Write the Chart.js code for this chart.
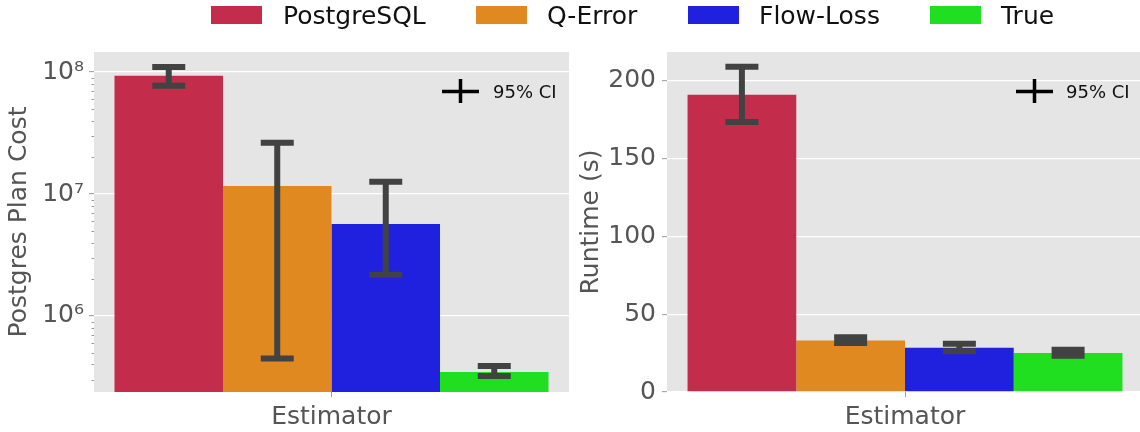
<!DOCTYPE html>
<html>
<head>
<meta charset="utf-8">
<script src="https://cdn.jsdelivr.net/npm/chart.js@4/dist/chart.umd.min.js"></script>
<style>
  html, body { margin:0; padding:0; background:#fff; width:1140px; height:432px; overflow:hidden; }
  body { position:relative; font-family:'DejaVu Sans', sans-serif; }
  .box { position:absolute; top:0; height:432px; }
  .leg { position:absolute; font-size:25px; line-height:25px; color:#111; white-space:nowrap; }
  .sw { position:absolute; top:6px; width:51px; height:18px; }
  .ci { position:absolute; font-size:18px; line-height:18px; color:#111; white-space:nowrap; }
  svg.cross { position:absolute; overflow:visible; }
</style>
</head>
<body>
<div class="box" style="left:0;width:569px;"><canvas id="c1"></canvas></div>
<div class="box" style="left:575px;width:568px;"><canvas id="c2"></canvas></div>
<div id="legend"></div>
<div id="ciLegends"></div>
<script>
// ---- data ----
const categories = [''];
const estimators = ['PostgreSQL', 'Q-Error', 'Flow-Loss', 'True'];
const colors = ['#c32d4b', '#df8920', '#2020df', '#20df20'];
const planCost = [9.33e7, 1.163e7, 5.68e6, 3.47e5];
const planCostLow = [7.73e7, 4.47e5, 2.18e6, 3.22e5];
const planCostHigh = [1.10e8, 2.63e7, 1.26e7, 3.89e5];
const runtime = [191.0, 33.1, 28.5, 25.1];
const runtimeLow = [173.5, 31.4, 26.2, 23.3];
const runtimeHigh = [208.9, 35.2, 31.0, 27.2];
const logTicks = [1e6, 1e7, 1e8];
const logTickLabels = ['10\u2076', '10\u2077', '10\u2078'];
const linTicks = [0, 50, 100, 150, 200];
const linTickLabels = ['0', '50', '100', '150', '200'];
const ciLabel = '95% CI';

// ---- legend (HTML) ----
const legendPos = [[211, 283], [476, 547], [688, 759], [930, 1001]];
const legEl = document.getElementById('legend');
estimators.forEach((name, i) => {
  const sw = document.createElement('div');
  sw.className = 'sw'; sw.style.left = legendPos[i][0] + 'px'; sw.style.background = colors[i];
  legEl.appendChild(sw);
  const t = document.createElement('div');
  t.className = 'leg'; t.style.left = legendPos[i][1] + 'px'; t.style.top = '3px';
  t.textContent = name;
  legEl.appendChild(t);
});
const ciPos = [[442, 493], [1016, 1066]];
const ciEl = document.getElementById('ciLegends');
ciPos.forEach(p => {
  ciEl.insertAdjacentHTML('beforeend',
    `<svg class="cross" style="left:${p[0]}px;top:79px" width="37" height="24">
       <line x1="0" y1="12.5" x2="37" y2="12.5" stroke="#000" stroke-width="3.5"/>
       <line x1="18.5" y1="0" x2="18.5" y2="24" stroke="#000" stroke-width="3.5"/>
     </svg><div class="ci" style="left:${p[1]}px;top:83px">${ciLabel}</div>`);
});

Chart.defaults.font.family = "'DejaVu Sans', sans-serif";
Chart.defaults.animation = false;

const bgPlugin = {
  id: 'bg',
  beforeDraw(chart) {
    const {ctx, chartArea: a} = chart;
    ctx.save(); ctx.fillStyle = '#e5e5e5';
    ctx.fillRect(a.left, a.top, a.right - a.left, a.bottom - a.top);
    ctx.restore();
  }
};
const errPlugin = {
  id: 'err',
  afterDatasetsDraw(chart, args, opts) {
    const {ctx} = chart; const ys = chart.scales.y;
    ctx.save(); ctx.strokeStyle = '#424242'; ctx.lineWidth = 6; ctx.lineCap = 'butt';
    chart.data.datasets.forEach((ds, i) => {
      const bar = chart.getDatasetMeta(i).data[0];
      const x = bar.x;
      const yl = ys.getPixelForValue(opts.low[i]);
      const yh = ys.getPixelForValue(opts.high[i]);
      ctx.beginPath(); ctx.moveTo(x, yh); ctx.lineTo(x, yl); ctx.stroke();
      ctx.beginPath(); ctx.moveTo(x - 16.5, yh); ctx.lineTo(x + 16.5, yh);
      ctx.moveTo(x - 16.5, yl); ctx.lineTo(x + 16.5, yl); ctx.stroke();
    });
    ctx.restore();
  }
};
const minorPlugin = {
  id: 'minor',
  afterDraw(chart, args, opts) {
    if (!opts.on) return;
    const {ctx, chartArea: a} = chart; const ys = chart.scales.y;
    ctx.save(); ctx.strokeStyle = '#999'; ctx.lineWidth = 1;
    for (let k = 5; k <= 8; k++) for (let m = 2; m <= 9; m++) {
      const v = m * Math.pow(10, k);
      if (v < ys.min || v > ys.max) continue;
      const y = Math.round(ys.getPixelForValue(v)) + 0.5;
      ctx.beginPath(); ctx.moveTo(a.left - 2.5, y); ctx.lineTo(a.left, y); ctx.stroke();
    }
    ctx.restore();
  }
};

function makeChart(id, values, low, high, yScale, yTitle, yWidth, titlePad, minor) {
  return new Chart(document.getElementById(id), {
    type: 'bar',
    data: {
      labels: categories,
      datasets: estimators.map((name, i) => ({
        label: name, data: [values[i]], backgroundColor: colors[i],
        borderWidth: 0, barPercentage: 1, categoryPercentage: 0.9137
      }))
    },
    options: {
      responsive: true, maintainAspectRatio: false,
      layout: { padding: { top: 52, left: 0, right: 0, bottom: 0 } },
      plugins: { legend: { display: false }, tooltip: { enabled: false },
        err: { low: low, high: high }, minor: { on: minor } },
      scales: {
        x: {
          grid: { display: true, drawOnChartArea: false, offset: false, tickLength: 5, tickColor: '#999', tickWidth: 1 },
          border: { display: false },
          ticks: { display: false },
          title: { display: true, text: 'Estimator', color: '#555', font: { size: 25, lineHeight: 1.2 }, padding: { top: 0, bottom: 0 } },
          afterFit(s) { s.height = 40; }
        },
        y: Object.assign({
          grid: { color: '#ffffff', lineWidth: 1.3, tickLength: 5, tickColor: '#999', tickWidth: 1 },
          border: { display: false },
          title: { display: true, text: yTitle, color: '#555', font: { size: 25, lineHeight: 1.2 }, padding: { top: titlePad, bottom: 0 } },
          afterFit(s) { s.width = yWidth; }
        }, yScale)
      }
    },
    plugins: [bgPlugin, errPlugin, minorPlugin]
  });
}

makeChart('c1', planCost, planCostLow, planCostHigh, {
  type: 'logarithmic', min: 2.38e5, max: 1.46e8,
  afterBuildTicks(s) { s.ticks = logTicks.map(v => ({ value: v })); },
  ticks: { color: '#555', font: { size: 25 }, padding: 5,
    callback: (v) => { const i = logTicks.indexOf(v); return i >= 0 ? logTickLabels[i] : ''; } }
}, 'Postgres Plan Cost', 94, 4.6, true);

makeChart('c2', runtime, runtimeLow, runtimeHigh, {
  type: 'linear', min: 0, max: 218.4,
  afterBuildTicks(s) { s.ticks = linTicks.map(v => ({ value: v })); },
  ticks: { color: '#555', font: { size: 25 }, padding: 6,
    callback: (v) => { const i = linTicks.indexOf(v); return i >= 0 ? linTickLabels[i] : ''; } }
}, 'Runtime (s)', 92, 1.35, false);
</script>
</body>
</html>
